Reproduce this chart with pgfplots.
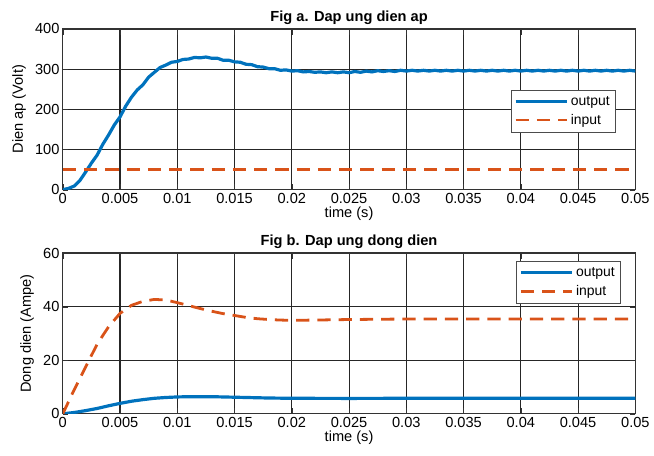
\documentclass[border=0pt]{standalone}
\usepackage{fontspec}
\setmainfont{Liberation Sans}
\usepackage{pgfplots}
\pgfplotsset{compat=1.18}
\definecolor{mblue}{RGB}{0,114,189}
\definecolor{morange}{RGB}{217,83,25}

\pgfplotsset{
  sim/.style={
    width=431pt, height=121pt, scale only axis,
    xmin=0, xmax=0.05,
    xtick={0,0.005,...,0.05},
    xticklabels={0,0.005,0.01,0.015,0.02,0.025,0.03,0.035,0.04,0.045,0.05},
    scaled x ticks=false,
    grid=major,
    major grid style={black!85, line width=0.8pt},
    axis line style={black!80, line width=1pt},
    tick style={black!80},
    tick align=inside,
    font=\fontsize{11}{12}\selectfont,
    /pgf/number format/assume math mode=true,
    title style={font=\fontsize{11}{12}\selectfont\bfseries, yshift=-6pt},
    xlabel={time (s)},
    xlabel style={yshift=4pt},
    yticklabel style={xshift=1pt},
    xticklabel style={yshift=1pt},
    legend cell align=left,
    legend style={draw=black!70, line width=0.5pt, font=\fontsize{10.5}{11}\selectfont,
      inner xsep=2pt, inner ysep=2.5pt, row sep=1pt},
    legend image code/.code={\draw[#1, line width=2.2pt] (0cm,0cm) -- (1.35cm,0cm);},
  },
  outp/.style={mblue, line width=2.4pt},
  inp/.style={morange, line width=2.1pt, dash pattern=on 10pt off 6pt},
}

\begin{document}
\begin{tikzpicture}
\begin{axis}[sim,
  ymin=0, ymax=400, ytick={0,100,...,400},
  title={Fig a. Dap ung dien ap},
  ylabel={Dien ap (Volt)},
  legend style={at={(0.965,0.62)}, anchor=north east},
]
\addplot[outp] coordinates {
(0,0) (0.0005,3) (0.001,9) (0.0015,23) (0.002,44) (0.0025,66) (0.003,86) (0.0035,113)
(0.004,136) (0.0045,161) (0.005,181) (0.0055,208) (0.006,230) (0.0065,248) (0.007,261)
(0.0075,280) (0.008,292) (0.0085,304) (0.009,310) (0.0095,317) (0.01,319) (0.0105,324)
(0.011,325) (0.0115,329) (0.012,328) (0.0125,330) (0.013,327) (0.0135,327) (0.014,322)
(0.0145,322) (0.015,318) (0.0155,317) (0.016,312) (0.0165,311) (0.017,306) (0.0175,305)
(0.018,301) (0.0185,301) (0.019,297) (0.0195,298) (0.02,295) (0.0205,296) (0.021,293)
(0.0215,294) (0.022,292) (0.0225,293) (0.023,291) (0.0235,293) (0.024,291) (0.0245,293)
(0.025,291) (0.0255,294) (0.026,292) (0.0265,295) (0.027,293) (0.0275,296) (0.028,294)
(0.0285,296) (0.029,294) (0.0295,297) (0.03,295) (0.0305,297) (0.031,295) (0.0315,297)
(0.032,295) (0.0325,297) (0.033,295) (0.0335,297) (0.034,295) (0.0345,297) (0.035,295)
(0.0355,297) (0.036,295) (0.0365,297) (0.037,295) (0.0375,297) (0.038,295) (0.0385,297)
(0.039,295) (0.0395,297) (0.04,295) (0.0405,297) (0.041,295) (0.0415,297) (0.042,295)
(0.0425,297) (0.043,295) (0.0435,297) (0.044,295) (0.0445,297) (0.045,295) (0.0455,297)
(0.046,295) (0.0465,297) (0.047,295) (0.0475,297) (0.048,295) (0.0485,297) (0.049,295)
(0.0495,297) (0.05,295)
};
\addlegendentry{output}
\addplot[inp] coordinates {(0,50) (0.05,50)};
\addlegendentry{input}
\end{axis}

\begin{axis}[sim, yshift=-168.75pt,
  ymin=0, ymax=60, ytick={0,20,40,60},
  title={Fig b. Dap ung dong dien},
  ylabel={Dong dien (Ampe)},
  legend style={at={(0.974,0.95)}, anchor=north east},
]
\addplot[outp] coordinates {
(0,0) (0.001,0.5) (0.002,1.2) (0.003,2.0) (0.004,3.0) (0.005,3.9) (0.006,4.7)
(0.007,5.3) (0.008,5.8) (0.009,6.1) (0.01,6.3) (0.011,6.4) (0.012,6.4) (0.013,6.4)
(0.014,6.3) (0.015,6.2) (0.016,6.1) (0.017,6.0) (0.018,5.9) (0.019,5.85) (0.02,5.8)
(0.025,5.75) (0.03,5.8) (0.035,5.8) (0.04,5.8) (0.045,5.8) (0.05,5.8)
};
\addlegendentry{output}
\addplot[inp] coordinates {
(0,0) (0.001,9) (0.002,17.5) (0.003,26) (0.004,32.5) (0.005,37.5) (0.006,40.5)
(0.007,42) (0.008,42.7) (0.009,42.5) (0.01,41.5) (0.011,40.4) (0.012,39.3) (0.013,38.3)
(0.014,37.4) (0.015,36.7) (0.016,36.0) (0.017,35.5) (0.018,35.2) (0.019,35.0) (0.02,34.9)
(0.022,35.0) (0.025,35.2) (0.03,35.4) (0.035,35.4) (0.04,35.4) (0.045,35.4) (0.05,35.4)
};
\addlegendentry{input}
\end{axis}
% page margins as in the reference
\path (-47.25pt,142.75pt) (443pt,-200.25pt);
\end{tikzpicture}
\end{document}
